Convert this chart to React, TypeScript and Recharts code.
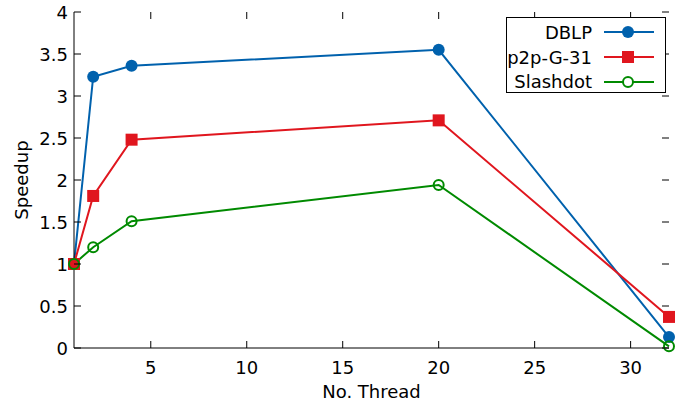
import { LineChart, Line, XAxis, YAxis } from 'recharts'

const threads = [1, 2, 4, 20, 32]
const dblp = [1, 3.23, 3.36, 3.55, 0.13]
const p2p = [1, 1.81, 2.48, 2.71, 0.37]
const slashdot = [1, 1.2, 1.51, 1.94, 0.02]

const xTicks = [5, 10, 15, 20, 25, 30]
const yTicks = [0, 0.5, 1, 1.5, 2, 2.5, 3, 3.5, 4]

const BLUE = '#0061ad'
const RED = '#e0161e'
const GREEN = '#008a00'
const FONT = '"DejaVu Sans", sans-serif'

const WIDTH = 675
const HEIGHT = 409
const MARGIN = { top: 12, right: 6, bottom: 0, left: 0 }
const TICK = 7

const data = threads.map((t, i) => ({
  t,
  dblp: dblp[i],
  p2p: p2p[i],
  slashdot: slashdot[i],
}))

// bottom tick + mirrored tick on the top border (gnuplot style)
function BottomTick({ x, y, payload }: any) {
  return (
    <g>
      <line x1={x} x2={x} y1={y} y2={y - TICK} stroke="#000" />
      <line x1={x} x2={x} y1={MARGIN.top} y2={MARGIN.top + TICK} stroke="#000" />
      <text x={x} y={y + 26} textAnchor="middle" fontSize={18} fontFamily={FONT} fill="#000">
        {payload.value}
      </text>
    </g>
  )
}

// left tick + mirrored tick on the right border
function LeftTick({ x, y, payload }: any) {
  const right = WIDTH - MARGIN.right
  return (
    <g>
      <line x1={x} x2={x + TICK} y1={y} y2={y} stroke="#000" />
      <line x1={right} x2={right - TICK} y1={y} y2={y} stroke="#000" />
      <text x={x - 6} y={y + 6.5} textAnchor="end" fontSize={18} fontFamily={FONT} fill="#000">
        {payload.value}
      </text>
    </g>
  )
}

function SquareDot({ cx, cy }: any) {
  if (cx == null || cy == null) return null
  return <rect x={cx - 6} y={cy - 6} width={12} height={12} fill={RED} />
}

function LegendRow({ label, color, marker }: { label: string; color: string; marker: string }) {
  return (
    <div style={{ display: 'flex', alignItems: 'center', height: 24.7 }}>
      <div style={{ width: 85, textAlign: 'right', whiteSpace: 'nowrap' }}>{label}</div>
      <svg width={50} height={20} style={{ marginLeft: 12 }}>
        <line x1={0} x2={50} y1={10} y2={10} stroke={color} strokeWidth={2} />
        {marker === 'circle' && <circle cx={24} cy={10} r={6} fill={color} />}
        {marker === 'square' && <rect x={18} y={4} width={12} height={12} fill={color} />}
        {marker === 'open' && <circle cx={24} cy={10} r={5} fill="#fff" stroke={color} strokeWidth={2} />}
      </svg>
    </div>
  )
}

export default function App() {
  return (
    <div style={{ position: 'fixed', left: 0, top: 0, width: WIDTH, height: HEIGHT, background: '#fff' }}>
      <LineChart width={WIDTH} height={HEIGHT} data={data} margin={MARGIN} style={{ fontFamily: FONT }}>
        <XAxis
          dataKey="t"
          type="number"
          domain={[1, 32]}
          ticks={xTicks}
          height={61}
          tickSize={0}
          tickMargin={0}
          axisLine={{ stroke: '#000' }}
          tick={<BottomTick />}
          label={{ value: 'No. Thread', position: 'insideBottom', offset: 11, fontSize: 18, fill: '#000', fontFamily: FONT }}
        />
        <XAxis
          xAxisId="top"
          orientation="top"
          type="number"
          domain={[1, 32]}
          height={0}
          tickLine={false}
          tick={false}
          axisLine={{ stroke: '#000' }}
        />
        <YAxis
          type="number"
          domain={[0, 4]}
          ticks={yTicks}
          width={74}
          tickSize={0}
          tickMargin={0}
          axisLine={{ stroke: '#000' }}
          tick={<LeftTick />}
          label={{
            value: 'Speedup',
            angle: -90,
            position: 'insideLeft',
            offset: 22,
            fontSize: 18,
            fill: '#000',
            fontFamily: FONT,
            style: { textAnchor: 'middle' },
          }}
        />
        <YAxis
          yAxisId="right"
          orientation="right"
          type="number"
          domain={[0, 4]}
          width={0}
          tickLine={false}
          tick={false}
          axisLine={{ stroke: '#000' }}
        />
        <Line
          dataKey="dblp"
          stroke={BLUE}
          strokeWidth={2}
          dot={{ r: 6, fill: BLUE, stroke: 'none' }}
          isAnimationActive={false}
        />
        <Line
          dataKey="p2p"
          stroke={RED}
          strokeWidth={2}
          dot={<SquareDot />}
          isAnimationActive={false}
        />
        <Line
          dataKey="slashdot"
          stroke={GREEN}
          strokeWidth={2}
          dot={{ r: 5, fill: 'none', stroke: GREEN, strokeWidth: 2 }}
          isAnimationActive={false}
        />
      </LineChart>
      <div
        style={{
          position: 'absolute',
          left: 506,
          top: 17,
          width: 160,
          height: 76,
          border: '1px solid #000',
          background: '#fff',
          fontFamily: FONT,
          fontSize: 18,
          boxSizing: 'border-box',
          paddingTop: 2,
        }}
      >
        <LegendRow label="DBLP" color={BLUE} marker="circle" />
        <LegendRow label="p2p-G-31" color={RED} marker="square" />
        <LegendRow label="Slashdot" color={GREEN} marker="open" />
      </div>
    </div>
  )
}
